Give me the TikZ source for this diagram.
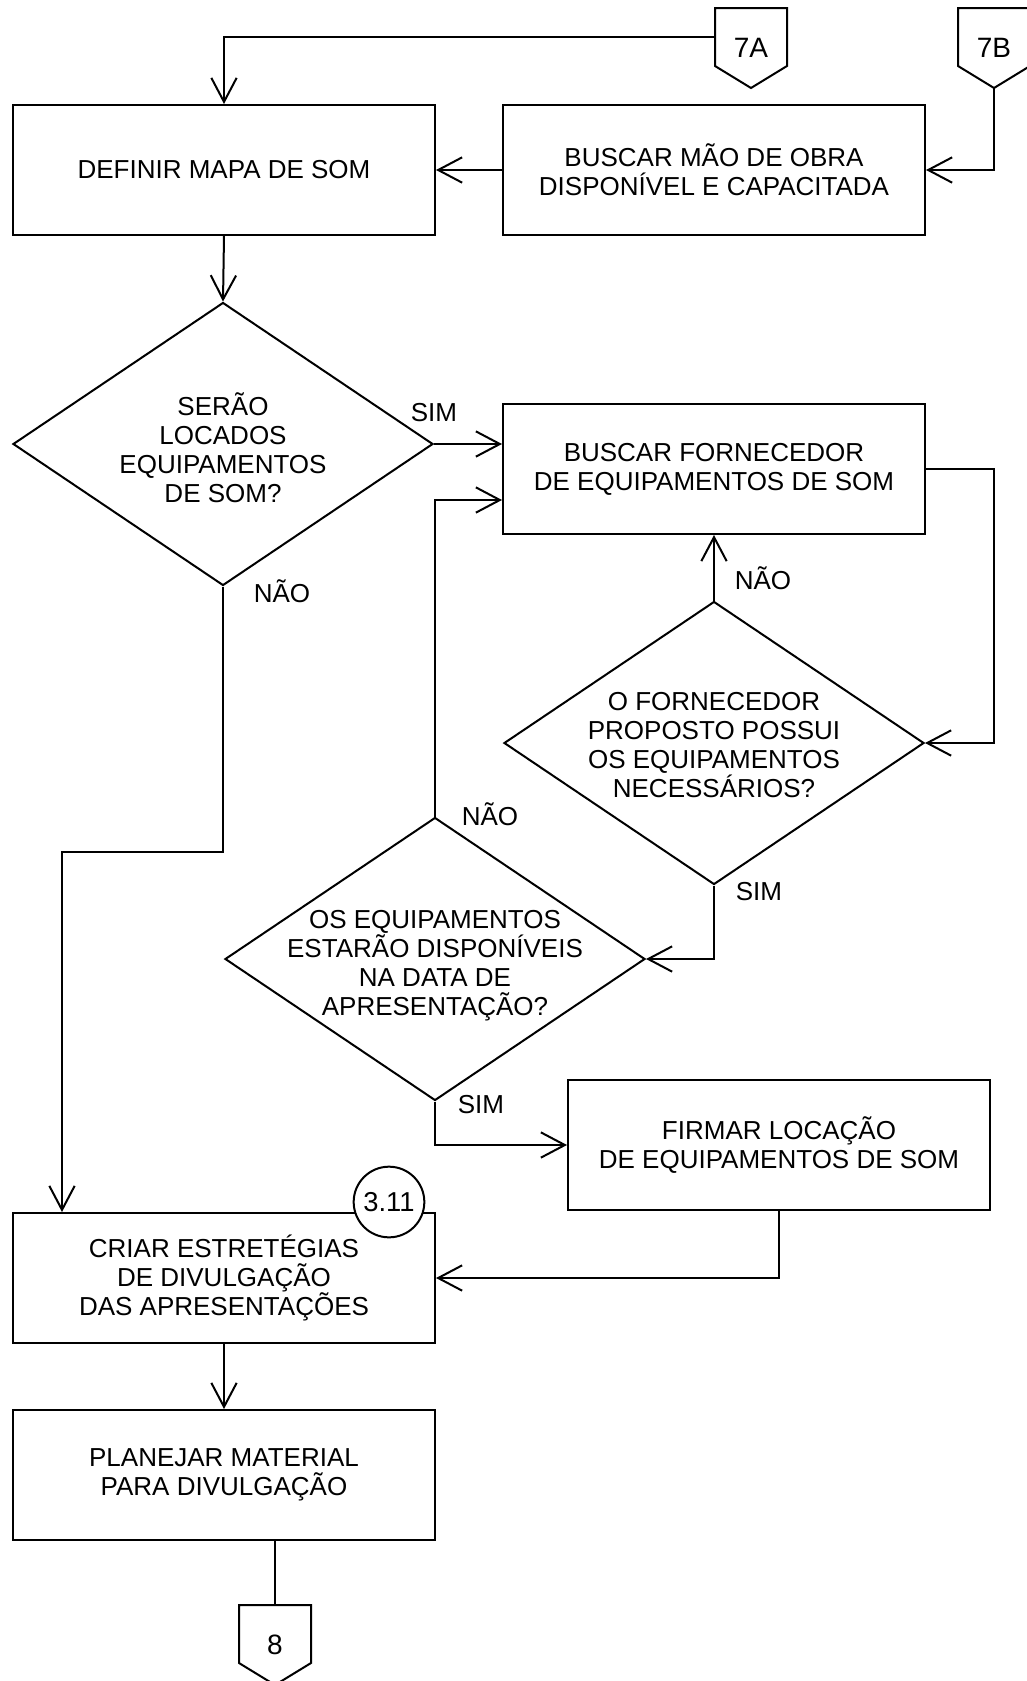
\documentclass[tikz,border=0pt]{standalone}
\usepackage{fontspec}
\setmainfont{Liberation Sans}
\usetikzlibrary{arrows.meta,shapes.geometric}
\begin{document}
\begin{tikzpicture}[x=0.75pt,y=-0.75pt,
  line width=1.5pt,
  every node/.style={font=\fontsize{19.5}{21.8}\selectfont},
  proc/.style={draw, rectangle, minimum width=316.5pt, minimum height=97.5pt, inner sep=0pt, align=center},
  decision/.style={draw, diamond, minimum width=315pt, minimum height=212.25pt, inner sep=0pt},
  dtext/.style={align=center, inner sep=0pt},
  offpage/.style={minimum width=52.5pt, minimum height=58.5pt, inner sep=0pt, font=\fontsize{21}{24}\selectfont},
  refcircle/.style={draw, circle, fill=white, minimum size=53pt, inner sep=0pt, font=\fontsize{20.5}{24}\selectfont},
  lbl/.style={inner sep=0pt},
  flow/.style={-{Straight Barb[length=18pt,width=19pt]}},
]
\useasboundingbox (0,0) rectangle (1027,1681);

% off-page connectors
\node[offpage] (c7A) at (751,48) {7A};
\node[offpage] (c7B) at (994,48) {7B};
\node[offpage] (c8) at (275,1645) {8};
\foreach \c in {c7A,c7B,c8}{
  \draw (\c.north west) -- (\c.north east) -- ([yshift=16.5pt]\c.south east)
        -- (\c.south) -- ([yshift=16.5pt]\c.south west) -- cycle;
}

% process boxes
\node[proc] (def) at (224,170) {DEFINIR MAPA DE SOM};
\node[proc] (mao) at (714,170) {BUSCAR MÃO DE OBRA\\DISPONÍVEL E CAPACITADA};
\node[proc] (forn) at (714,469) {BUSCAR FORNECEDOR\\DE EQUIPAMENTOS DE SOM};
\node[proc] (firm) at (779,1145) {FIRMAR LOCAÇÃO\\DE EQUIPAMENTOS DE SOM};
\node[proc] (criar) at (224,1278) {CRIAR ESTRETÉGIAS\\DE DIVULGAÇÃO\\DAS APRESENTAÇÕES};
\node[proc] (plan) at (224,1475) {PLANEJAR MATERIAL\\PARA DIVULGAÇÃO};

% decisions
\node[decision] (d1) at (223,444) {};
\node[dtext] (t1) at (223,448) {SERÃO\\LOCADOS\\EQUIPAMENTOS\\DE SOM?};
\node[decision] (d2) at (714,743) {};
\node[dtext] (t2) at (714,745) {O FORNECEDOR\\PROPOSTO POSSUI\\OS EQUIPAMENTOS\\NECESSÁRIOS?};
\node[decision] (d3) at (435,959) {};
\node[dtext] (t3) at (435,966) {OS EQUIPAMENTOS\\ESTARÃO DISPONÍVEIS\\NA DATA DE\\APRESENTAÇÃO?};

% reference marker
\node[refcircle] (ref) at (389,1202) {3.11};

% connectors
\draw[flow] ([yshift=8.25pt]c7A.west) -| (def.north);
\draw[flow] (c7B.south) |- (mao.east);
\draw[flow] (mao.west) -- (def.east);
\draw[flow] (def.south) -- (d1.north);
\draw[flow] (d1.east) -- (d1.east -| forn.west);
\draw[flow] (forn.east) -- ++(68,0) |- (d2.east);
\draw[flow] (d2.north) -- (forn.south);
\draw[flow] (d2.south) |- (d3.east);
\draw[flow] (d3.north) |- ([yshift=-23.25pt]forn.west);
\draw[flow] (d3.south) |- (firm.west);
\draw[flow] (firm.south) |- (criar.east);
\coordinate (k1) at (62,852);
\draw[flow] (d1.south) |- (k1) -- (k1 |- criar.north);
\draw[flow] (criar.south) -- (plan.north);
\draw (plan.south -| c8.north) -- (c8.north);

% branch labels
\node[lbl] (l1) at (434,413) {SIM};
\node[lbl] (l2) at (282,591) {NÃO};
\node[lbl] (l3) at (763,578) {NÃO};
\node[lbl] (l4) at (759,892) {SIM};
\node[lbl] (l5) at (490,814) {NÃO};
\node[lbl] (l6) at (481,1105) {SIM};
\end{tikzpicture}
\end{document}
